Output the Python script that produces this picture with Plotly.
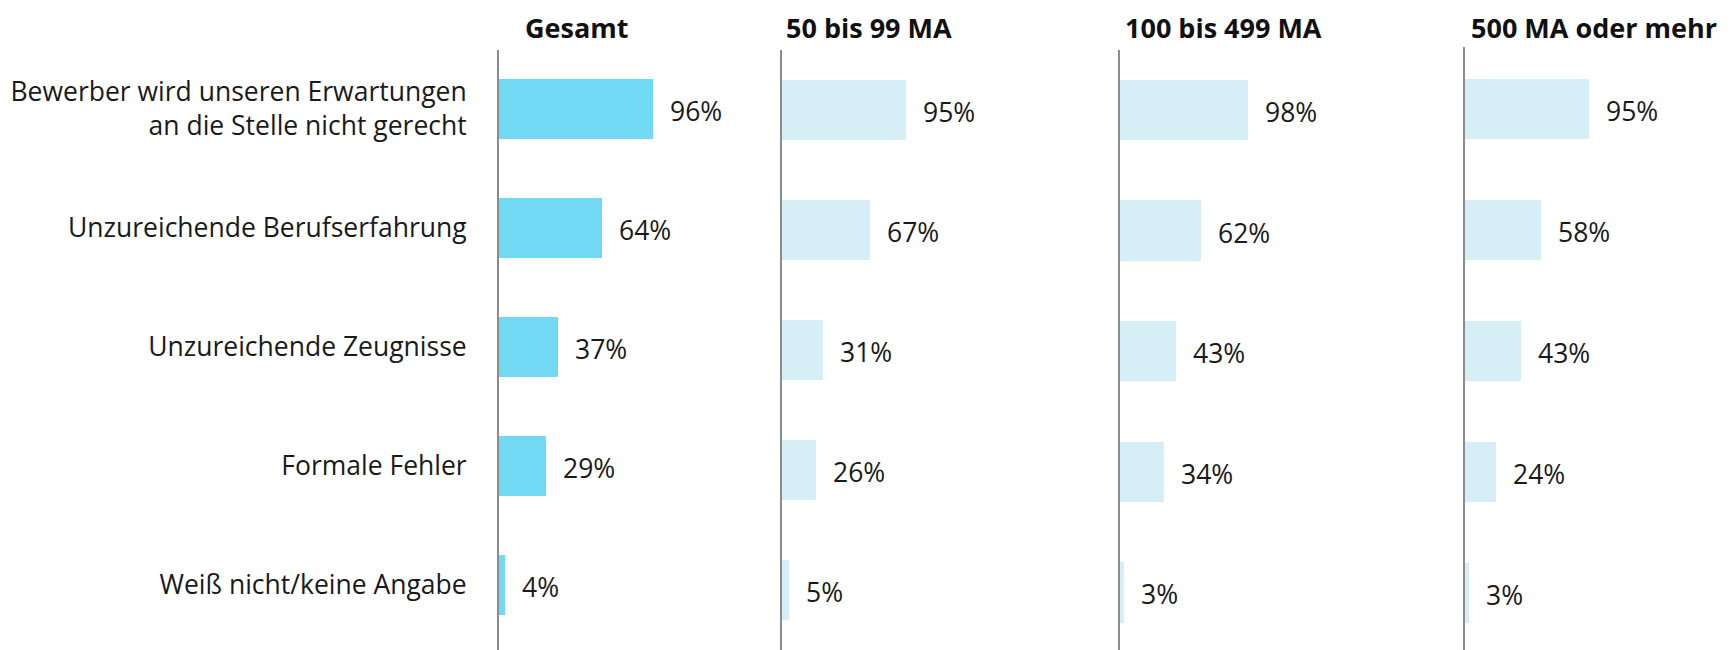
import plotly.graph_objects as go

categories = [
    "Bewerber wird unseren Erwartungen<br>an die Stelle nicht gerecht",
    "Unzureichende Berufserfahrung",
    "Unzureichende Zeugnisse",
    "Formale Fehler",
    "Weiß nicht/keine Angabe",
]
panel_titles = ["Gesamt", "50 bis 99 MA", "100 bis 499 MA", "500 MA oder mehr"]
gesamt = [96, 64, 37, 29, 4]
ma_50_99 = [95, 67, 31, 26, 5]
ma_100_499 = [98, 62, 43, 34, 3]
ma_500_plus = [95, 58, 43, 24, 3]

series = [gesamt, ma_50_99, ma_100_499, ma_500_plus]
colors = ["#72d9f5", "#d6eff6", "#d6eff6", "#d6eff6"]

W, H = 1736, 650
OFF = 8  # page body margin offset
# pixel layout (page coords) per panel: axis x, right edge, px per percent, top y, first row center, row spacing, title center
panels = [
    dict(x0=499, x1=770, ppu=1.605, top=50, p0=109, u=119.0, tx=576),
    dict(x0=782, x1=1100, ppu=1.31, top=50, p0=110, u=120.0, tx=869),
    dict(x0=1120, x1=1440, ppu=1.305, top=50, p0=110, u=120.6, tx=1223),
    dict(x0=1465, x1=1736, ppu=1.305, top=47, p0=109, u=121.0, tx=1594),
]

ypos = list(range(len(categories)))
fig = go.Figure()
font = "Open Sans, Liberation Sans, sans-serif"

for k, (vals, pnl) in enumerate(zip(series, panels)):
    n = "" if k == 0 else str(k + 1)
    fig.add_trace(go.Bar(
        x=vals, y=ypos, orientation="h", width=0.5,
        marker=dict(color=colors[k], line=dict(width=0)),
        xaxis="x" + n, yaxis="y" + n, showlegend=False, hoverinfo="x+y",
    ))
    x0 = pnl["x0"] - OFF
    x1 = pnl["x1"] - OFF
    top = pnl["top"] - OFF
    p0 = pnl["p0"] - OFF
    bottom = H
    wpx = x1 - x0
    fig.layout["xaxis" + n] = dict(
        domain=[x0 / W, x1 / W], range=[0, wpx / pnl["ppu"]],
        visible=False, anchor="y" + n, fixedrange=True,
    )
    top_val = -(p0 - top) / pnl["u"]
    bot_val = (bottom - p0) / pnl["u"]
    yax = dict(
        domain=[0, (H - top) / H], range=[bot_val, top_val],
        anchor="x" + n, showline=True, linecolor="#8c8c8c", linewidth=2,
        showgrid=False, zeroline=False, fixedrange=True,
        tickmode="array", tickvals=ypos,
    )
    if k == 0:
        yax.update(ticktext=categories, ticks="", ticklabelstandoff=25,
                   tickfont=dict(family=font, size=26.5, color="#1a1a1a"))
    else:
        yax.update(showticklabels=False, ticks="")
    fig.layout["yaxis" + n] = yax

    for i, v in enumerate(vals):
        fig.add_annotation(
            x=v, y=ypos[i], xref="x" + n, yref="y" + n, text=f"{v}%",
            showarrow=False, xanchor="left", yanchor="middle", xshift=15, yshift=-2,
            font=dict(family=font, size=26.5, color="#1a1a1a"),
        )
    fig.add_annotation(
        x=(pnl["tx"] - OFF) / W, y=1, xref="paper", yref="paper", text=f"<b>{panel_titles[k]}</b>",
        showarrow=False, xanchor="center", yanchor="top", yshift=0, borderpad=0,
        font=dict(family=font, size=27, color="#111111"),
    )

fig.update_layout(
    width=W, height=H, margin=dict(l=0, r=0, t=0, b=0),
    paper_bgcolor="white", plot_bgcolor="white", bargap=0,
)
fig.write_html("out.html")
